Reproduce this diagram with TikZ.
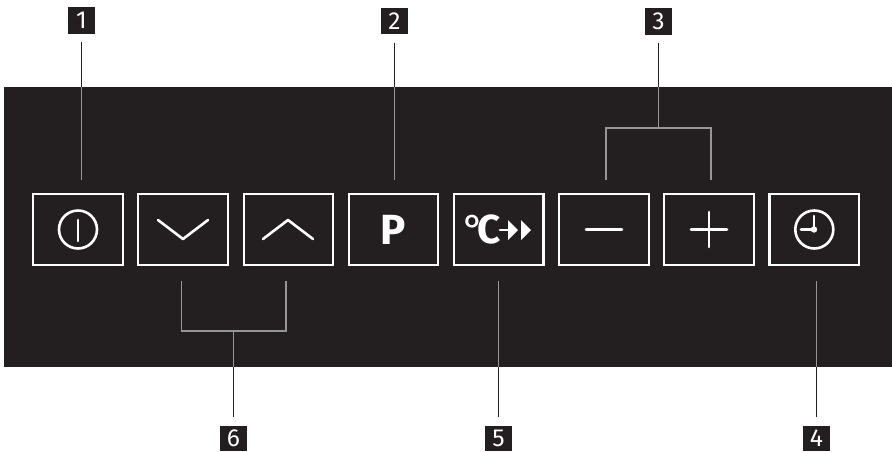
\documentclass[tikz,border=0pt]{standalone}
\usepackage{fontspec}
\setmainfont{Fira Sans}
\definecolor{PanelBlack}{RGB}{35,31,32}
\definecolor{LeaderGrey}{RGB}{150,150,150}
\tikzset{
  panelkey/.style={draw=white,line width=.45mm,fill=PanelBlack,minimum width=1.79cm,minimum height=1.41cm,inner sep=0pt},
  numbox/.style={fill=PanelBlack,text=white,minimum width=.54cm,minimum height=.53cm,inner sep=0pt,font=\fontsize{14}{14}\selectfont},
  numboxlow/.style={numbox,minimum height=.5cm},
  leaderout/.style={draw=PanelBlack,line width=.25mm},
  leaderin/.style={draw=LeaderGrey,line width=.3mm},
  glyph/.style={draw=white,line width=.52mm,line cap=round,line join=round},
  glyphtext/.style={text=white,inner sep=0pt}
}
\begin{document}
\begin{tikzpicture}[x=.02cm,y=-.02cm]
      \useasboundingbox (0,0) rectangle (892,451);
      \fill[PanelBlack] (4,87) rectangle (892,367);
      % keys
      \node[panelkey] (keyPower) at (78,229.5) {};
      \node[panelkey] (keyDown) at (183,229.5) {};
      \node[panelkey] (keyUp) at (288.5,229.5) {};
      \node[panelkey] (keyProg) at (393.5,229.5) {};
      \node[panelkey] (keyTemp) at (498.8,229.5) {};
      \node[panelkey] (keyMinus) at (604,229.5) {};
      \node[panelkey] (keyPlus) at (709,229.5) {};
      \node[panelkey] (keyClock) at (814.3,229.5) {};
      % glyphs
      \draw[glyph] (keyPower.center) circle (19);
      \draw[glyph] (78,220) -- (78,241);
      \draw[glyph] (158,220) -- (183,239) -- (208,220);
      \draw[glyph] (263,239) -- (288,220) -- (313,239);
      \node[glyphtext,font=\fontsize{24}{24}\bfseries\selectfont] (txtProg) at (393.5,230) {P};
      \node[glyphtext,font=\fontsize{23}{23}\selectfont] (txtTemp) at (482,229) {°\kern-.16em\textbf{C}};
      \draw[glyph] (500,230) -- (510,230);
      \fill[white] (508,220) -- (518,230) -- (508,240) -- cycle;
      \fill[white] (521,220) -- (531,230) -- (521,240) -- cycle;
      \draw[glyph] (586,229.5) -- (622,229.5);
      \draw[glyph] (691,229.5) -- (727,229.5);
      \draw[glyph] (709,212) -- (709,247);
      \draw[glyph] (keyClock.center) circle (19);
      \draw[glyph] (814,216) -- (814,229.5) -- (801,229.5);
      \fill[white] (814,229.5) circle (3.2);
      % numbers
      \node[numbox] (numOne) at (81.5,20.5) {1};
      \node[numbox] (numTwo) at (394.5,21) {2};
      \node[numbox] (numThree) at (658.5,21.5) {3};
      \node[numboxlow] (numFour) at (816.5,438) {4};
      \node[numboxlow] (numFive) at (498.5,438) {5};
      \node[numboxlow] (numSix) at (233.5,438) {6};
      % free ends of the leaders
      \coordinate (edgeOne) at (81.5,87);
      \coordinate (endOne) at (81.5,180);
      \coordinate (edgeTwo) at (394.5,87);
      \coordinate (endTwo) at (394.5,180);
      \coordinate (edgeThree) at (658.5,87);
      \coordinate (forkThree) at (658.5,128);
      \coordinate (endMinus) at (606,180);
      \coordinate (endPlus) at (711,180);
      \coordinate (edgeFour) at (816.5,367);
      \coordinate (endFour) at (816.5,281);
      \coordinate (edgeFive) at (498.5,367);
      \coordinate (endFive) at (498.5,281);
      \coordinate (edgeSix) at (233.5,367);
      \coordinate (forkSix) at (233.5,331);
      \coordinate (endDown) at (181.5,281);
      \coordinate (endUp) at (286,281);
      % leaders
      \draw[leaderout,shorten <=4.5pt] (numOne.south) -- (edgeOne);
      \draw[leaderin] (edgeOne) -- (endOne);
      \draw[leaderout,shorten <=4.5pt] (numTwo.south) -- (edgeTwo);
      \draw[leaderin] (edgeTwo) -- (endTwo);
      \draw[leaderout,shorten <=4.5pt] (numThree.south) -- (edgeThree);
      \draw[leaderin] (edgeThree) -- (forkThree);
      \draw[leaderin] (endMinus) |- (forkThree) -| (endPlus);
      \draw[leaderout,shorten <=4.5pt] (numFour.north) -- (edgeFour);
      \draw[leaderin] (edgeFour) -- (endFour);
      \draw[leaderout,shorten <=4.5pt] (numFive.north) -- (edgeFive);
      \draw[leaderin] (edgeFive) -- (endFive);
      \draw[leaderout,shorten <=4.5pt] (numSix.north) -- (edgeSix);
      \draw[leaderin] (edgeSix) -- (forkSix);
      \draw[leaderin] (endDown) |- (forkSix) -| (endUp);
    \end{tikzpicture}
\end{document}
